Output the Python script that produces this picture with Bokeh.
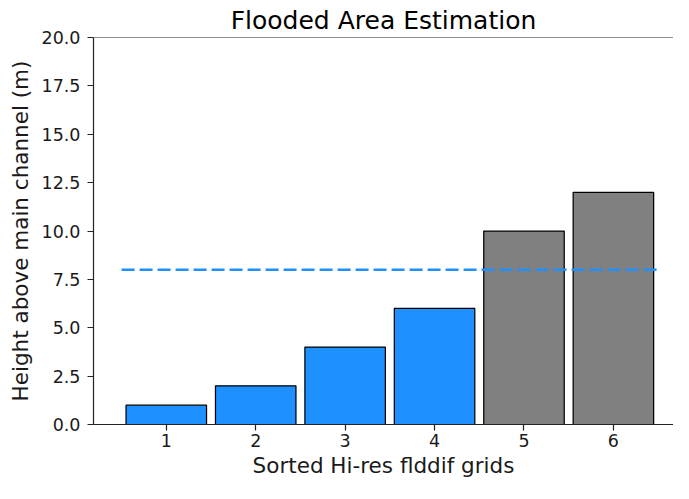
from bokeh.plotting import figure
from bokeh.models import FixedTicker, NumeralTickFormatter, Span, Range1d
from bokeh.embed import file_html
from bokeh.resources import INLINE

# ---- data ----
grid_ids = [1, 2, 3, 4, 5, 6]
heights = [1, 2, 4, 6, 10, 12]
water_level = 8
line_x = [0.5, 6.5]
y_ticks = [0, 2.5, 5, 7.5, 10, 12.5, 15, 17.5, 20]
x_ticks = [1, 2, 3, 4, 5, 6]

FLOOD = "#1E90FF"
DRY = "#808080"
colors = [FLOOD if h < water_level else DRY for h in heights]

FONT = "DejaVu Sans"

p = figure(width=673, height=483, output_backend="svg", toolbar_location=None,
           x_range=Range1d(0.186, 6.672), y_range=Range1d(0, 20),
           min_border_left=93, min_border_right=0, min_border_top=37, min_border_bottom=59,
           title="Flooded Area Estimation")

p.title.align = "center"
p.title.text_font = FONT
p.title.text_font_size = "25px"
p.title.text_font_style = "normal"
p.title.text_color = "black"
p.title.standoff = 5

p.outline_line_color = None
p.xgrid.visible = False
p.ygrid.visible = False
p.background_fill_color = "white"
p.border_fill_color = "white"

p.vbar(x=grid_ids, top=heights, width=0.9, fill_color=colors,
       line_color="black", line_width=1.25)

p.line(x=line_x, y=[water_level, water_level], line_color=FLOOD,
       line_width=2.5, line_dash="13 5")

top_spine = Span(location=p.y_range.end, dimension="width", line_color="#222222", line_width=1.2)
p.add_layout(top_spine)

for ax in (p.xaxis[0], p.yaxis[0]):
    ax.axis_line_color = "#222222"
    ax.axis_line_width = 1.2
    ax.major_tick_line_color = "#222222"
    ax.major_tick_line_width = 1.2
    ax.major_tick_out = 6
    ax.major_tick_in = 0
    ax.minor_tick_line_color = None
    ax.major_label_text_font = FONT
    ax.major_label_text_font_size = "17.5px"
    ax.major_label_text_color = "#1a1a1a"
    ax.axis_label_text_font = FONT
    ax.axis_label_text_font_size = "21.5px"
    ax.axis_label_text_font_style = "normal"
    ax.axis_label_text_color = "#1a1a1a"

p.xaxis.ticker = FixedTicker(ticks=x_ticks)
p.yaxis.ticker = FixedTicker(ticks=y_ticks)
p.yaxis.formatter = NumeralTickFormatter(format="0.0")
p.xaxis.axis_label = "Sorted Hi-res flddif grids"
p.yaxis.axis_label = "Height above main channel (m)"
p.xaxis.major_label_standoff = 3
p.yaxis.major_label_standoff = 7
p.xaxis.axis_label_standoff = 3
p.yaxis.axis_label_standoff = 6

open("out.html", "w").write(file_html(p, INLINE))
